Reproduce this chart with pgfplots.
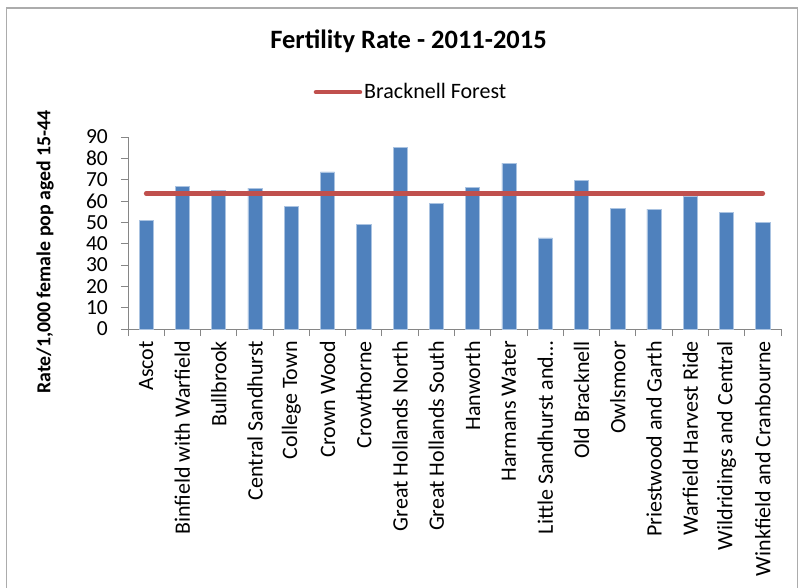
\documentclass[border=0pt]{standalone}
\usepackage{pgfplots}
\pgfplotsset{compat=1.18}
\usepackage{fontspec}
\setmainfont{Carlito}
\definecolor{barblue}{RGB}{79,129,189}
\definecolor{baredge}{RGB}{170,195,225}
\definecolor{linered}{RGB}{192,80,77}
\definecolor{axgray}{RGB}{134,134,134}
\begin{document}
\begin{tikzpicture}[x=1pt,y=1pt]
\path[use as bounding box] (0,0) rectangle (800,587);
\draw[color=gray!65, line width=1.5pt] (6.5,-20) -- (6.5,579) -- (797.5,579) -- (797.5,-20);
\begin{axis}[
  at={(128pt,258pt)}, anchor=south west,
  scale only axis, width=653pt, height=192pt,
  xmin=-0.5, xmax=17.5, ymin=0, ymax=90,
  axis x line*=bottom, axis y line*=left,
  axis line style={color=axgray, line width=0.9pt},
  ytick={0,10,...,90},
  xtick={0,...,17},
  minor xtick={-0.5,0.5,...,17.5},
  major x tick style={draw=none},
  minor x tick style={color=axgray, line width=0.9pt},
  y tick style={color=axgray, line width=0.9pt},
  tick align=outside,
  minor tick length=7pt, major tick length=7pt,
  xticklabels={Ascot,Binfield with Warfield,Bullbrook,Central Sandhurst,College Town,Crown Wood,Crowthorne,Great Hollands North,Great Hollands South,Hanworth,Harmans Water,{Little Sandhurst and\ldots},Old Bracknell,Owlsmoor,Priestwood and Garth,Warfield Harvest Ride,Wildridings and Central,Winkfield and Cranbourne},
  xticklabel style={rotate=90, anchor=east, font=\fontsize{22}{26}\selectfont, inner sep=0pt},
  xticklabel shift=5pt,
  yticklabel style={font=\fontsize{21.5}{25}\selectfont, inner sep=0pt},
  yticklabel shift=13pt,
  /pgf/number format/assume math mode=true,
  legend style={at={(rel axis cs:0.4334,1.234)}, anchor=center, draw=none, fill=none, font=\fontsize{22}{26}\selectfont, inner sep=0pt},
  legend image code/.code={\draw[#1, line cap=round] (0pt,0pt) -- (44pt,0pt);},
  clip=false,
]
\addplot[ybar, bar width=0.39, fill=barblue, draw=baredge, line width=0.6pt, forget plot] coordinates {
(0,50.8) (1,66.8) (2,64.9) (3,66.0) (4,57.3) (5,73.6) (6,49.1) (7,85.3) (8,58.7)
(9,66.2) (10,77.8) (11,42.7) (12,69.5) (13,56.5) (14,56.2) (15,62.1) (16,54.6) (17,49.8)};
\addplot[color=linered, line width=4.5pt, line cap=round] coordinates {(0,63.5) (17,63.5)};
\addlegendentry{Bracknell Forest}
\end{axis}
\node[font=\bfseries\fontsize{26.5}{31}\selectfont] at (408.5,546) {Fertility Rate - 2011-2015};
\node[rotate=90, font=\bfseries\fontsize{19.8}{23}\selectfont] at (45,335) {Rate/1,000 female pop aged 15-44};
\end{tikzpicture}
\end{document}
